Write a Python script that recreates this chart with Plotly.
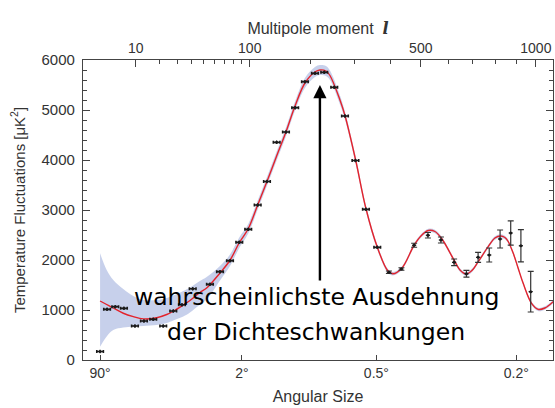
import plotly.graph_objects as go

# ---------------- data ----------------
# binned measurements: multipole l, power [uK^2], vertical error
pt_l = [2, 3, 4.5, 6.5, 9.7, 12.9, 16.8, 21.7, 27.4, 33.0, 40.8, 55.4, 65.2,
        75.9, 86.7, 98.0, 110.8, 124.3, 139.4, 154.9, 171.2, 189.6, 209.6,
        229.3, 251.6, 277.0, 303.2, 330.9, 362.4]
pt_v = [170, 1013, 1067, 1033, 680, 780, 813, 680, 980, 1105, 1425, 1513, 1767,
        1987, 2353, 2613, 3100, 3570, 4353, 4560, 5047, 5567, 5733,
        5753, 5453, 4880, 3990, 3013, 2253]

hi_l = [396.7, 435.6, 477.3, 525.2, 572.9, 623.9, 673.8, 723.3, 772.4,
        822.3, 872.9, 923.1, 973.0]
hi_v = [1755, 1820, 2295, 2495, 2400, 1953, 1725, 2053, 2100,
        2420, 2540, 2285, 1367]
hi_err = [25, 25, 40, 55, 60, 67, 67, 100, 140, 180, 243, 323, 407]

# best-fit model curve and its uncertainty band
cv_l = [2, 2.94, 4.11, 6.34, 9.18, 12.66, 18.4, 23.6, 27.4, 33.9, 38.7, 46.6,
        52.4, 65.2, 75.9, 86.7, 98.0, 110.8, 124.3, 139.4, 154.9, 170.8, 189.6,
        209.6, 220, 233, 241.9, 265, 277, 303.7, 330.9, 362.4, 392.8, 408.9,
        436.2, 477.6, 500.6, 526.3, 550.6, 575.6, 627, 647.3, 673, 696.9, 723.8,
        767.8, 798.3, 824.7, 845.1, 860.7, 885.3, 908.3, 934.6, 977.6, 1012,
        1048, 1093.6]
cv_v = [1180, 1110, 1040, 935, 867, 822, 845, 910, 975, 1100, 1190, 1350,
        1440, 1740, 1995, 2345, 2625, 3100, 3570, 4080, 4560, 5075, 5540,
        5760, 5800, 5780, 5690, 5200, 4890, 4000, 3030, 2260, 1790, 1725,
        1830, 2300, 2480, 2590, 2570, 2430, 1967, 1800, 1720, 1790, 1967,
        2267, 2440, 2480, 2450, 2370, 2133, 1850, 1533, 1133, 1013,
        1040, 1167]
band_hi = [2133, 1800, 1600, 1420, 1280, 1200, 1200, 1240, 1290, 1380, 1450, 1580,
           1660, 1880, 2110, 2450, 2720, 3190, 3660, 4170, 4650, 5165, 5640,
           5860, 5900, 5880, 5790, 5290, 4970, 4070, 3090, 2310, 1830, 1760,
           1865, 2335, 2515, 2625, 2605, 2465, 2000, 1833, 1753, 1823, 2000,
           2300, 2473, 2513, 2483, 2403, 2166, 1883, 1566, 1166, 1046,
           1073, 1200]
band_lo = [267, 470, 600, 650, 670, 680, 700, 740, 790, 870, 950, 1110,
           1210, 1590, 1880, 2240, 2530, 3010, 3480, 3990, 4470, 4985, 5440,
           5660, 5700, 5680, 5600, 5110, 4810, 3930, 2970, 2210, 1750, 1690,
           1795, 2265, 2445, 2555, 2535, 2395, 1934, 1767, 1687, 1757, 1934,
           2234, 2407, 2447, 2417, 2337, 2100, 1817, 1500, 1100, 980,
           1007, 1134]

top_ticks = [10, 100, 500, 1000]
top_minor = [20, 30, 40, 50, 60, 70, 80, 90, 200, 300, 400, 600, 700, 800, 900]
ang_labels = ["90°", "2°", "0.5°", "0.2°"]
ang_l = [2, 90, 360, 900]          # l ~ 180 deg / theta

P = 0.4                            # axis is linear in l**0.4
def u(vals):
    return [v ** P for v in vals]

X_RANGE = [0.75, 16.42]
AX = "#444444"
TXT = "#333333"
FONT = "Liberation Sans, Arial, sans-serif"
LBL_FONT = "DejaVu Sans, sans-serif"

fig = go.Figure()

# band
fig.add_trace(go.Scatter(x=u(cv_l), y=band_lo, mode="lines", line=dict(width=0, shape="spline"),
                         hoverinfo="skip", showlegend=False))
fig.add_trace(go.Scatter(x=u(cv_l), y=band_hi, mode="lines", line=dict(width=0, shape="spline"),
                         fill="tonexty", fillcolor="rgba(196,205,234,0.95)",
                         hoverinfo="skip", showlegend=False))
# model
fig.add_trace(go.Scatter(x=u(cv_l), y=cv_v, mode="lines",
                         line=dict(color="#e3232c", width=1.4, shape="spline"),
                         showlegend=False))
# low-l points
fig.add_trace(go.Scatter(x=u(pt_l), y=pt_v, mode="markers",
                         marker=dict(color="#1a1a1a", size=3),
                         error_x=dict(type="constant", value=0.11, color="#1a1a1a", thickness=1.6, width=1.5),
                         error_y=dict(type="constant", value=35, color="#1a1a1a", thickness=1.2, width=0),
                         showlegend=False))
# high-l points
fig.add_trace(go.Scatter(x=u(hi_l), y=hi_v, mode="markers",
                         marker=dict(color="#1a1a1a", size=3),
                         error_x=dict(type="constant", value=0.07, color="#1a1a1a", thickness=1.2, width=0),
                         error_y=dict(type="data", array=hi_err, color="#333333", thickness=1.2, width=3),
                         showlegend=False))
# invisible trace for top axis
fig.add_trace(go.Scatter(x=[X_RANGE[0]], y=[0], xaxis="x2", mode="markers",
                         marker=dict(opacity=0), hoverinfo="skip", showlegend=False))

# arrow
fig.add_annotation(x=220 ** P, y=5500, ax=220 ** P, ay=1560, xref="x", yref="y",
                   axref="x", ayref="y", showarrow=True, arrowhead=2, arrowsize=1.1,
                   arrowwidth=2.4, arrowcolor="black", text="")
# labels (paper coords span the plot area)
fig.add_annotation(x=0.496, y=0.157, xref="paper", yref="paper",
                   text="wahrscheinlichste Ausdehnung", showarrow=False,
                   font=dict(family=LBL_FONT, size=23.5, color="black"))
fig.add_annotation(x=0.496, y=0.040, xref="paper", yref="paper",
                   text="der Dichteschwankungen", showarrow=False,
                   font=dict(family=LBL_FONT, size=23.5, color="black"))

fig.update_layout(
    width=555, height=408,
    margin=dict(l=83, r=2, t=60, b=48),
    paper_bgcolor="white", plot_bgcolor="white",
    font=dict(family=FONT, color=TXT, size=14),
    xaxis=dict(range=X_RANGE, showgrid=False, zeroline=False, showline=True,
               linecolor=AX, linewidth=1.2, ticks="inside", ticklen=5, tickcolor=AX,
               tickvals=u(ang_l), ticktext=ang_labels, tickfont=dict(size=14),
               title=dict(text="Angular Size", font=dict(size=16), standoff=10)),
    xaxis2=dict(range=X_RANGE, overlaying="x", side="top", showgrid=False, zeroline=False,
                showline=True, linecolor=AX, linewidth=1.2, ticks="inside", ticklen=7,
                tickcolor=AX, tickvals=u(top_ticks), ticktext=[str(t) for t in top_ticks],
                tickfont=dict(size=14),
                minor=dict(tickvals=u(top_minor), ticks="inside", ticklen=4, tickcolor=AX),
                title=dict(text="Multipole moment  <span style='font-family:DejaVu Serif'><b><i>l</i></b></span>",
                           font=dict(size=16), standoff=1)),
    yaxis=dict(range=[0, 6000], showgrid=False, zeroline=False, showline=True, mirror="ticks",
               linecolor=AX, linewidth=1.2, ticks="inside", ticklen=7, tickcolor=AX,
               tickvals=[0, 1000, 2000, 3000, 4000, 5000, 6000], tickfont=dict(size=15),
               ticklabelstandoff=4,
               minor=dict(dtick=200, ticks="inside", ticklen=4, tickcolor=AX),
               title=dict(text="Temperature Fluctuations [μK<sup>2</sup>]", font=dict(size=15), standoff=12)),
)

fig.write_html("out.html")
